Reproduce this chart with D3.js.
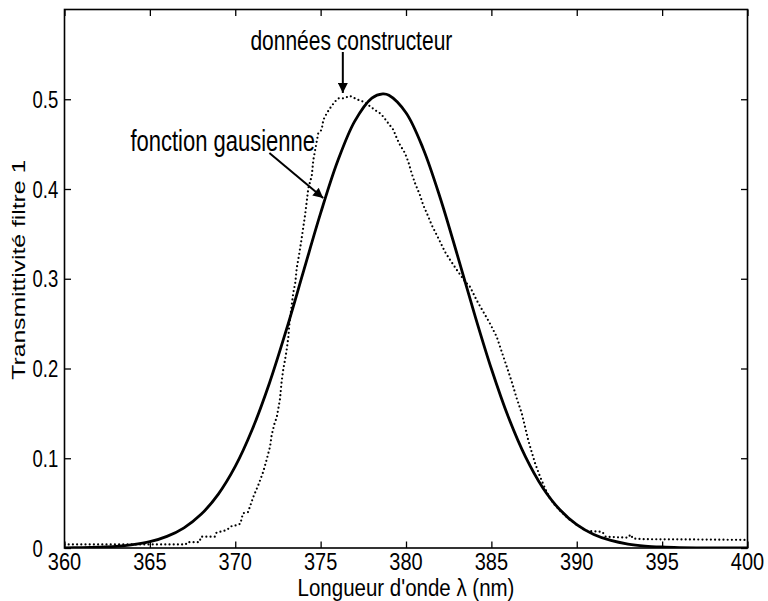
<!DOCTYPE html>
<html>
<head>
<meta charset="utf-8">
<script src="https://cdn.jsdelivr.net/npm/d3@7"></script>
<style>
  html, body { margin: 0; padding: 0; background: #fff; }
  svg { display: block; }
  text { font-family: "Liberation Sans", Arial, Helvetica, sans-serif; fill: #000; }
</style>
</head>
<body>
<svg id="chart" width="768" height="601"></svg>
<script>
// ---------- data ----------
const xTicks = [360, 365, 370, 375, 380, 385, 390, 395, 400];
const yTicks = [0, 0.1, 0.2, 0.3, 0.4, 0.5];
const yTickLabels = ["0", "0.1", "0.2", "0.3", "0.4", "0.5"];

// fitted gaussian curve
const gaussX = [360, 361, 362, 363, 364, 365, 366, 367, 368, 369, 370, 371, 372, 373, 374, 375, 376, 377, 378, 378.64, 379, 380, 381, 382, 383, 384, 385, 386, 387, 388, 389, 390, 391, 392, 393, 394, 395, 396, 397, 398, 399, 400];
const gaussY = [0.0002, 0.0004, 0.0009, 0.0018, 0.0037, 0.0070, 0.0129, 0.0225, 0.0375, 0.0598, 0.0909, 0.1323, 0.1836, 0.2435, 0.3085, 0.3731, 0.4311, 0.4756, 0.5013, 0.5060, 0.5045, 0.4850, 0.4452, 0.3903, 0.3269, 0.2614, 0.1997, 0.1456, 0.1015, 0.0675, 0.0429, 0.0260, 0.0151, 0.0084, 0.0044, 0.0022, 0.0011, 0.0005, 0.0002, 0.0001, 0.0000, 0.0000];

// manufacturer data (données constructeur)
const dataX = [360, 363, 367.1, 367.2, 367.9, 368.0, 368.8, 368.9, 369.5, 369.8, 370.0, 370.3, 370.45, 370.75, 371.06, 371.35, 371.64, 371.84, 372.04, 372.13, 372.29, 372.43, 372.52, 372.62, 372.72, 372.82, 372.91, 373.01, 373.11, 373.17, 373.4, 373.52, 373.6, 373.72, 373.85, 373.99, 374.09, 374.18, 374.28, 374.48, 374.57, 374.67, 374.77, 374.86, 375.06, 375.16, 375.36, 375.55, 375.84, 376.04, 376.33, 376.72, 377.01, 377.3, 377.5, 377.79, 378.18, 378.48, 378.67, 378.96, 379.26, 379.46, 379.65, 379.94, 380.14, 380.33, 380.53, 380.82, 381.01, 381.31, 381.5, 381.9, 382.28, 382.58, 382.97, 383.46, 383.75, 384.14, 384.53, 384.92, 385.31, 385.6, 385.9, 386.19, 386.48, 386.78, 386.97, 387.16, 387.36, 387.56, 387.85, 388.14, 388.43, 388.63, 389.1, 389.6, 390.0, 390.38, 390.6, 391.5, 391.7, 393.0, 393.15, 393.3, 394, 397, 400];
const dataY = [0.004, 0.004, 0.004, 0.0065, 0.0065, 0.0126, 0.0126, 0.017, 0.020, 0.0245, 0.025, 0.027, 0.0386, 0.040, 0.057, 0.070, 0.085, 0.0985, 0.113, 0.1255, 0.138, 0.1456, 0.155, 0.166, 0.186, 0.200, 0.209, 0.2206, 0.235, 0.2496, 0.2845, 0.296, 0.3117, 0.3246, 0.340, 0.358, 0.371, 0.385, 0.401, 0.4145, 0.432, 0.4424, 0.4528, 0.462, 0.466, 0.477, 0.4844, 0.490, 0.4974, 0.501, 0.501, 0.5037, 0.501, 0.4985, 0.4974, 0.4936, 0.488, 0.4844, 0.4806, 0.4733, 0.466, 0.4565, 0.449, 0.440, 0.430, 0.4175, 0.4064, 0.393, 0.382, 0.369, 0.360, 0.345, 0.330, 0.321, 0.310, 0.2968, 0.291, 0.276, 0.263, 0.250, 0.2355, 0.219, 0.202, 0.1853, 0.167, 0.150, 0.135, 0.120, 0.107, 0.0944, 0.0795, 0.0665, 0.0553, 0.0498, 0.040, 0.0312, 0.026, 0.021, 0.019, 0.018, 0.0125, 0.0115, 0.015, 0.0105, 0.0098, 0.0095, 0.009];

const xLabel = "Longueur d'onde λ (nm)";
const yLabel = "Transmittivité filtre 1";
const annotData = "données constructeur";
const annotGauss = "fonction gausienne";

// ---------- layout ----------
const svg = d3.select("#chart");
const L = 64.5, R = 747.5, T = 9.5, B = 548;
const STRETCH = 1.3; // glyphs in the reference are taller than wide
const x = d3.scaleLinear().domain([360, 400]).range([L, R]);
const y = d3.scaleLinear().domain([0, 0.6]).range([B, T]);

const defs = svg.append("defs");
defs.append("clipPath").attr("id", "clip")
  .append("rect").attr("x", L).attr("y", T).attr("width", R - L).attr("height", B - T);
defs.append("marker")
  .attr("id", "arrow").attr("viewBox", "0 0 10 10")
  .attr("refX", 10).attr("refY", 5)
  .attr("markerWidth", 17).attr("markerHeight", 10)
  .attr("markerUnits", "userSpaceOnUse")
  .attr("orient", "auto")
  .append("path").attr("d", "M0,0 L10,5 L0,10 Z").attr("fill", "#000");

// horizontal text stretched vertically around its baseline
function hText(px, py, str, size, anchor, stretch) {
  return svg.append("text")
    .attr("transform", `translate(${px},${py}) scale(1,${stretch || STRETCH})`)
    .attr("text-anchor", anchor).attr("font-size", size).text(str);
}

// axes ticks (inward on all four sides), no labels from d3
const tickLen = 6.5;
const axes = [
  svg.append("g").attr("transform", `translate(0,${B})`).call(d3.axisBottom(x).tickValues(xTicks).tickFormat("").tickSizeInner(-tickLen).tickSizeOuter(0)),
  svg.append("g").attr("transform", `translate(0,${T})`).call(d3.axisTop(x).tickValues(xTicks).tickFormat("").tickSizeInner(-tickLen).tickSizeOuter(0)),
  svg.append("g").attr("transform", `translate(${L},0)`).call(d3.axisLeft(y).tickValues(yTicks).tickFormat("").tickSizeInner(-tickLen).tickSizeOuter(0)),
  svg.append("g").attr("transform", `translate(${R},0)`).call(d3.axisRight(y).tickValues(yTicks).tickFormat("").tickSizeInner(-tickLen).tickSizeOuter(0))
];
axes.forEach(g => {
  g.select(".domain").remove();
  g.selectAll(".tick line").attr("stroke", "#000").attr("stroke-width", 1.3);
  g.selectAll(".tick text").remove();
});

// tick labels
const xFont = 20, yFont = 18.5;
xTicks.forEach(t => hText(x(t), B + 21.5, d3.format("d")(t), xFont, "middle", 1.2));
yTicks.forEach((t, i) => hText(L - 32, y(t) + 0.716 * yFont * STRETCH / 2, yTickLabels[i], yFont, "start"));

svg.append("rect").attr("x", L).attr("y", T).attr("width", R - L).attr("height", B - T)
  .attr("fill", "none").attr("stroke", "#000").attr("stroke-width", 1.6);

// curves
const plot = svg.append("g").attr("clip-path", "url(#clip)");
const gaussPts = gaussX.map((v, i) => [v, gaussY[i]]);
plot.append("path").datum(gaussPts)
  .attr("d", d3.line().x(d => x(d[0])).y(d => y(d[1])).curve(d3.curveCatmullRom.alpha(0.5)))
  .attr("fill", "none").attr("stroke", "#000").attr("stroke-width", 2.8);

const dataPts = dataX.map((v, i) => [v, dataY[i]]);
plot.append("path").datum(dataPts)
  .attr("d", d3.line().x(d => x(d[0])).y(d => y(d[1])))
  .attr("fill", "none").attr("stroke", "#000").attr("stroke-width", 2.2)
  .attr("stroke-linecap", "round").attr("stroke-dasharray", "0,4.2");

// axis titles
hText(406, 595.5, xLabel, 20.5, "middle", 1.13);
svg.append("text")
  .attr("transform", `translate(25,${y(0.31)}) rotate(-90) scale(${STRETCH},1)`)
  .attr("text-anchor", "middle").attr("font-size", 19).text(yLabel);

// annotations
hText(x(376.8), 50, annotData, 21, "middle");
svg.append("line")
  .attr("x1", x(376.3)).attr("y1", 52).attr("x2", x(376.3)).attr("y2", y(0.507))
  .attr("stroke", "#000").attr("stroke-width", 2).attr("marker-end", "url(#arrow)");

hText(315, 151, annotGauss, 22, "end");
svg.append("line")
  .attr("x1", x(372.0)).attr("y1", y(0.44)).attr("x2", x(375.15)).attr("y2", y(0.39))
  .attr("stroke", "#000").attr("stroke-width", 2).attr("marker-end", "url(#arrow)");
</script>
</body>
</html>
